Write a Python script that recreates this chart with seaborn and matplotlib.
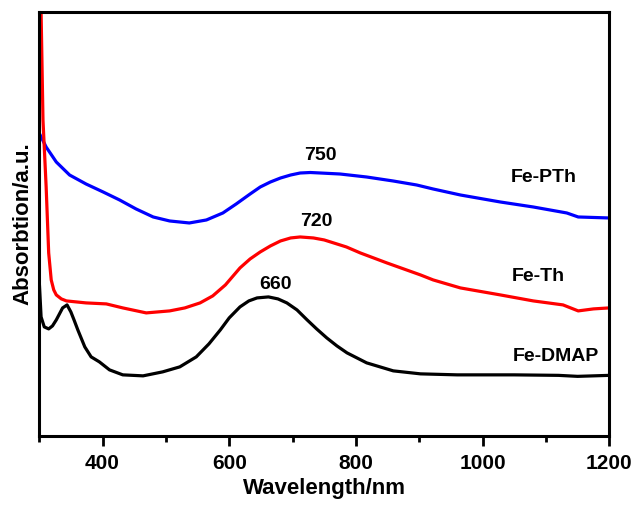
import matplotlib
matplotlib.use("Agg")
import matplotlib.pyplot as plt
import seaborn as sns
import pandas as pd
from matplotlib.ticker import MultipleLocator

# spectra (arbitrary absorbance units)
wl_dmap = [300, 303, 308, 315, 321, 327, 337, 344, 350, 355, 361, 372, 382,
           395, 411, 432, 464, 495, 522, 548, 568, 586, 600, 617, 631, 644,
           662, 677, 691, 707, 723, 738, 754, 770, 786, 817, 859, 902, 960,
           1050, 1120, 1150, 1200]
abs_dmap = [156, 119, 109, 107, 110, 116, 128, 131, 124, 116, 106, 89, 79,
            74, 66, 61, 60, 64, 69, 79, 92, 106, 118, 129, 135, 138,
            139, 137, 133, 126, 116, 107, 98, 90, 83, 73, 65, 62, 61,
            61, 60.5, 59.5, 60.5]

wl_th = [300, 303, 306, 311, 315, 319, 323, 327, 335, 343, 374, 406, 432,
         469, 506, 530, 554, 574, 594, 617, 633, 649, 665, 681, 697, 712,
         733, 750, 765, 785, 807, 849, 902, 922, 965, 1028, 1080, 1127,
         1151, 1175, 1200]
abs_th = [470, 424, 316, 249, 183, 156, 146, 141, 137, 135, 133, 132, 128,
          123, 125, 128, 133, 140, 151, 168, 177, 184, 190, 195, 198, 199,
          198, 196, 193, 189, 183, 173, 161, 156, 148, 141, 135, 131,
          125, 127, 128]

wl_pth = [300, 311, 327, 348, 374, 401, 427, 453, 480, 506, 537, 564, 590,
          611, 633, 649, 665, 681, 697, 712, 728, 744, 775, 817, 859, 896,
          922, 965, 1028, 1080, 1133, 1151, 1200]
abs_pth = [303, 289, 274, 261, 252, 244, 236, 227, 219, 215, 213, 216, 223,
           232, 242, 249, 254, 258, 261, 263, 263.5, 263, 262, 259, 255, 251,
           247, 241, 234, 229, 223, 219, 218]

peak_labels = ["750", "720", "660"]
peak_x = [744, 737, 673]
peak_y = [281, 214, 151]

names = ["Fe-PTh", "Fe-Th", "Fe-DMAP"]
name_x = [1096, 1088, 1115]
name_y = [259, 159, 79]
colors = ["#0000ff", "#ff0000", "#000000"]

df = pd.concat([
    pd.DataFrame({"wl": wl_pth, "a": abs_pth, "s": "Fe-PTh"}),
    pd.DataFrame({"wl": wl_th, "a": abs_th, "s": "Fe-Th"}),
    pd.DataFrame({"wl": wl_dmap, "a": abs_dmap, "s": "Fe-DMAP"}),
])

sns.set_theme(style="ticks")
plt.rcParams["font.family"] = ["Liberation Sans", "DejaVu Sans"]
plt.rcParams["font.weight"] = "bold"
plt.rcParams["text.color"] = "black"
plt.rcParams["axes.labelcolor"] = "black"
plt.rcParams["xtick.color"] = "black"

fig = plt.figure(figsize=(6.32, 5.05), dpi=100)
ax = fig.add_axes([0.062, 0.137, 0.902, 0.839])

sns.lineplot(data=df, x="wl", y="a", hue="s", palette=dict(zip(names, colors)),
             linewidth=2.3, legend=False, ax=ax, sort=False)
for ln in ax.get_lines():
    ln.set_solid_joinstyle("round")

for t, x, y in zip(peak_labels, peak_x, peak_y):
    ax.text(x, y, t, ha="center", va="center", fontsize=14, fontweight="bold")
for t, x, y in zip(names, name_x, name_y):
    ax.text(x, y, t, ha="center", va="center", fontsize=14, fontweight="bold")

ax.set_xlim(300, 1200)
ax.set_ylim(0, 424)
ax.xaxis.set_major_locator(MultipleLocator(200))
ax.xaxis.set_minor_locator(MultipleLocator(100))
ax.set_yticks([])
ax.tick_params(axis="x", which="major", length=7, width=2, labelsize=15, pad=6)
ax.tick_params(axis="x", which="minor", length=4, width=2)
for lab in ax.get_xticklabels():
    lab.set_fontweight("bold")
for sp in ax.spines.values():
    sp.set_visible(True)
    sp.set_linewidth(2.2)
    sp.set_color("black")

ax.set_xlabel("Wavelength/nm", fontsize=16, fontweight="bold", labelpad=4)
ax.set_ylabel("Absorbtion/a.u.", fontsize=16, fontweight="bold", labelpad=4)

fig.savefig("out.png", dpi=100)
